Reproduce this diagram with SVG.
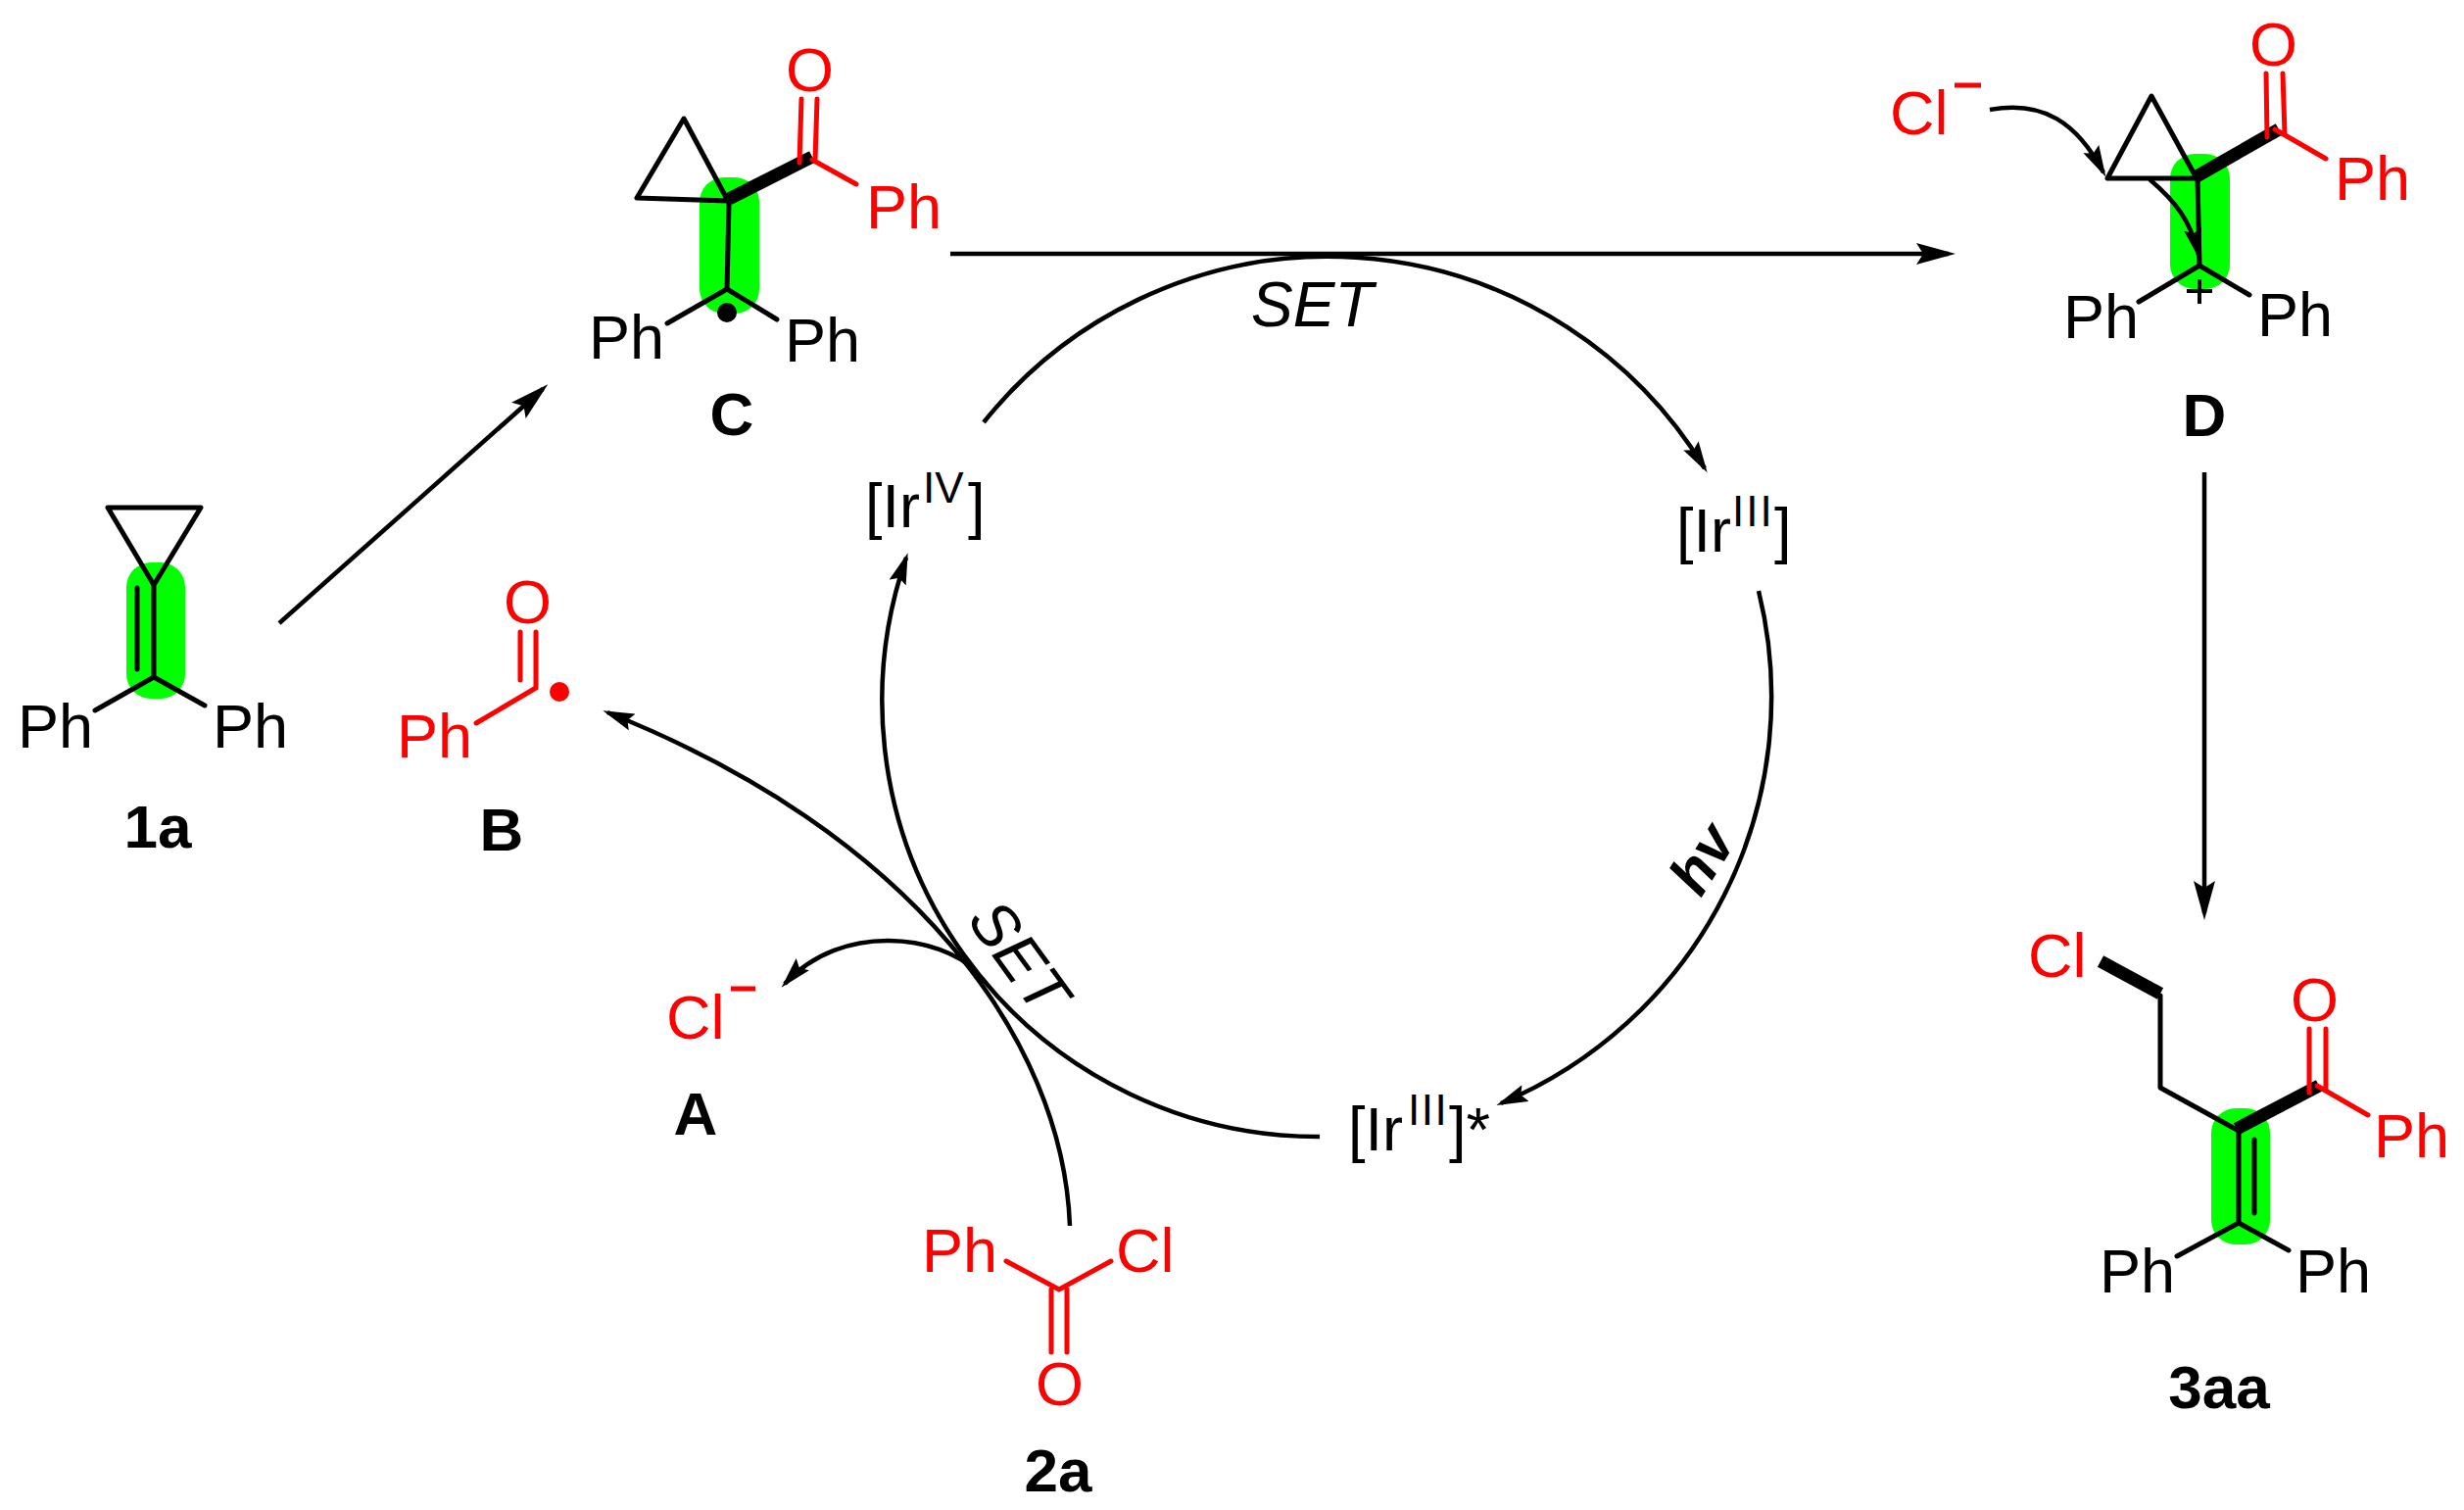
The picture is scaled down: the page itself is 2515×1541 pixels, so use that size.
<svg xmlns="http://www.w3.org/2000/svg" width="2515" height="1541" viewBox="0 0 2515 1541">
<style>
text{font-family:"Liberation Sans",Arial,sans-serif;font-size:63px;fill:#000}
.r{fill:#f00}
.lab{font-weight:bold;font-size:62px;text-anchor:middle}
.sup{font-size:44px}
.b{stroke:#000;stroke-width:5;fill:none;stroke-linejoin:round;stroke-linecap:round}
.rb{stroke:#f00;stroke-width:5;fill:none;stroke-linecap:round}
.w{stroke:#000;stroke-width:13;fill:none}
.g{fill:#0f0}
.a{stroke:#000;stroke-width:4.5;fill:none}
.big{marker-end:url(#hb)}
.sm{marker-end:url(#hs)}
</style>
<defs>
<marker id="hb" markerUnits="userSpaceOnUse" markerWidth="40" markerHeight="22" viewBox="0 0 40 22" refX="33" refY="11" orient="auto"><path d="M0 0L40 11L0 22L7 11Z" fill="#000"/></marker>
<marker id="hs" markerUnits="userSpaceOnUse" markerWidth="32" markerHeight="18" viewBox="0 0 32 18" refX="27" refY="9" orient="auto"><path d="M0 0L32 9L0 18L5 9Z" fill="#000"/></marker>
</defs>
<rect width="2515" height="1541" fill="#fff"/>
<g id="node-1a">
<rect class="g" x="129" y="574" width="60" height="139" rx="25"/>
<path class="b" d="M157 597L110 518H205ZM157 597V691M97 725L157 691L209 720M140 600V683"/>
<text x="18" y="763">Ph</text><text x="217" y="763">Ph</text>
<text class="lab" x="161" y="865">1a</text>
</g>
<g id="node-C">
<rect class="g" x="714" y="181" width="61" height="139" rx="25"/>
<path class="b" d="M743 205L698 121L650 202L743 205ZM744 208L742 295M681 330L742 295L793 326"/>
<path class="w" d="M744 203L829 160"/>
<circle cx="742" cy="319" r="10"/>
<path class="rb" d="M818 101L816 166M834 101L832 163M829 163L874 188"/>
<text class="r" x="802" y="93">O</text>
<text class="r" x="884" y="233">Ph</text>
<text x="601" y="366">Ph</text><text x="801" y="369">Ph</text>
<text class="lab" x="747" y="444">C</text>
</g>
<g id="node-B">
<path class="rb" d="M531 645V694M547 645V702L486 738"/>
<circle cx="571" cy="706" r="10" fill="#f00"/>
<text class="r" x="514" y="636">O</text>
<text class="r" x="405" y="773">Ph</text>
<text class="lab" x="512" y="868">B</text>
</g>
<g id="node-A">
<text class="r" x="680" y="1060">Cl</text>
<path d="M746 1009H771" stroke="#f00" stroke-width="5"/>
<text class="lab" x="710" y="1158">A</text>
</g>
<g id="node-2a">
<path class="rb" d="M1027 1287L1081 1316L1134 1287M1073 1316V1380M1089 1316V1380"/>
<text class="r" x="941" y="1298">Ph</text>
<text class="r" x="1139" y="1298">Cl</text>
<text class="r" x="1057" y="1434">O</text>
<text class="lab" x="1080" y="1522">2a</text>
</g>
<g id="node-D">
<rect class="g" x="2215" y="157" width="61" height="138" rx="25"/>
<path class="b" d="M2242 182L2196 98L2151 182ZM2243 182L2245 271M2183 308L2245 271L2296 301"/>
<path class="w" d="M2242 180L2326 132"/>
<path class="rb" d="M2313 75L2314 140M2330 75L2332 137M2322 132L2374 162"/>
<path d="M2232 297H2258M2245 285V310" stroke="#000" stroke-width="4" fill="none"/>
<text class="r" x="2296" y="67">O</text>
<text class="r" x="2383" y="204">Ph</text>
<text class="r" x="1929" y="137">Cl</text>
<path d="M1995 87H2022" stroke="#f00" stroke-width="5"/>
<text x="2106" y="345">Ph</text><text x="2304" y="343">Ph</text>
<text class="lab" x="2250" y="445">D</text>
</g>
<g id="node-3aa">
<rect class="g" x="2257" y="1131" width="60" height="139" rx="25"/>
<path class="b" d="M2205 1016V1110L2285 1154M2285 1154V1248M2222 1282L2285 1248L2336 1276M2301 1163V1238"/>
<path class="w" d="M2144 981L2205 1014M2283 1152L2367 1108"/>
<path class="rb" d="M2357 1050V1115M2374 1050V1111M2365 1108L2417 1138"/>
<text class="r" x="2070" y="997">Cl</text>
<text class="r" x="2338" y="1042">O</text>
<text class="r" x="2423" y="1181">Ph</text>
<text x="2143" y="1319">Ph</text><text x="2343" y="1319">Ph</text>
<text class="lab" x="2265" y="1437">3aa</text>
</g>
<g id="node-IrIV"><text x="883" y="538">[Ir<tspan class="sup" x="942" y="513">IV</tspan><tspan x="988" y="538">]</tspan></text></g>
<g id="node-IrIII"><text x="1711" y="563">[Ir<tspan class="sup" x="1768" y="537" letter-spacing="2">III</tspan><tspan x="1811" y="563">]</tspan></text></g>
<g id="node-IrIIIstar"><text x="1376" y="1174">[Ir<tspan class="sup" x="1437" y="1148" letter-spacing="1.5">III</tspan><tspan x="1479" y="1174">]*</tspan></text></g>
<g id="connectors">
<path class="a big" d="M285 636L554 397"/>
<path class="a big" d="M970 259H1989"/>
<path class="a big" d="M2250 482V932"/>
<path class="a sm" d="M1004 431A450 450 0 0 1 1740 478"/>
<path class="a sm" d="M1795 603A450 450 0 0 1 1532 1126"/>
<path class="a sm" d="M1347 1160A445 445 0 0 1 925 569"/>
<path class="a sm" d="M1092 1251C1085 1060 930 850 620 727"/>
<path class="a sm" d="M996 991C960 955 860 940 801 1004"/>
<path class="a sm" d="M2031 112C2085 102 2120 125 2147 176"/>
<path class="a sm" d="M2194 183C2220 205 2236 225 2244 260"/>
</g>
<g id="labels">
<text x="1277" y="333" font-style="italic" style="font-size:64px">SET</text>
<text x="0" y="0" font-style="italic" transform="translate(986 939) rotate(54)" style="font-size:64px">SET</text>
<text x="0" y="0" font-style="italic" font-weight="bold" transform="translate(1736 917) rotate(-58)" style="font-size:60px">hv</text>
</g>
</svg>
